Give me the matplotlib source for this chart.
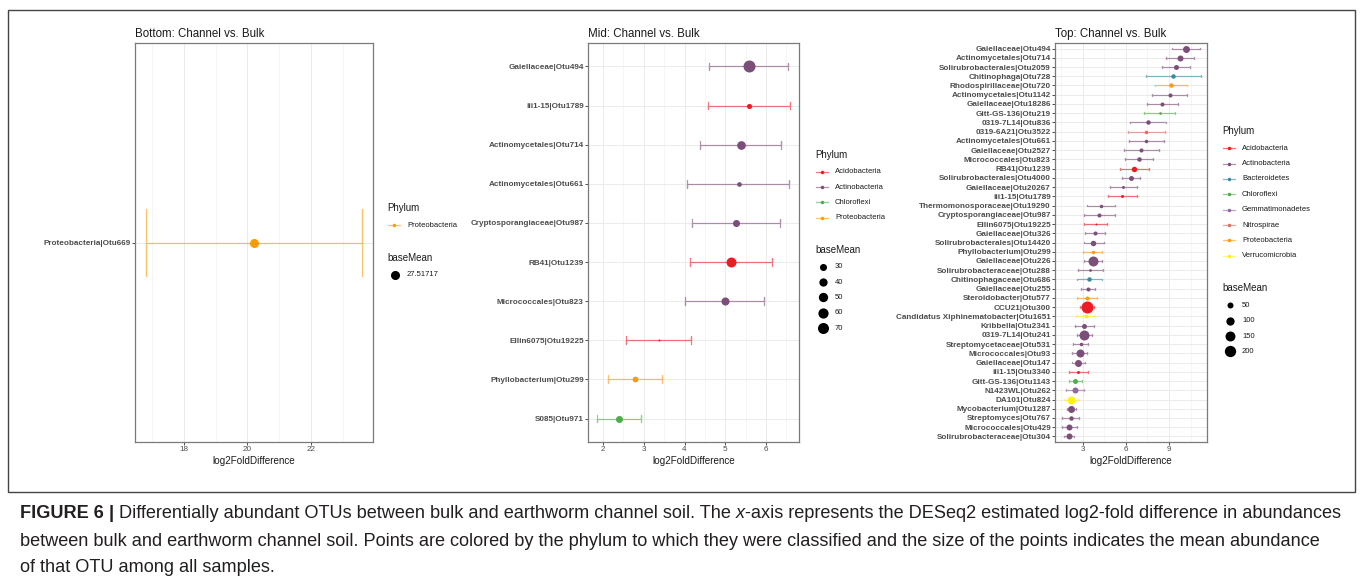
import numpy as np
import matplotlib
matplotlib.use("Agg")
import matplotlib.pyplot as plt
from matplotlib import font_manager
from matplotlib.patches import Rectangle

W, H, DPI = 1360, 579, 100

plt.rcParams['font.family'] = ['Liberation Sans', 'DejaVu Sans']

phylum_colors = {
    'Acidobacteria': '#EC1C24',
    'Actinobacteria': '#7B4F78',
    'Bacteroidetes': '#3A8C99',
    'Chloroflexi': '#4DAF4A',
    'Gemmatimonadetes': '#93679E',
    'Nitrospirae': '#D8725E',
    'Proteobacteria': '#FF9A0A',
    'Verrucomicrobia': '#FFF212',
}

# --- Bottom layer ---
bottom_otu = ['Proteobacteria|Otu669']
bottom_phylum = ['Proteobacteria']
bottom_lfc = [20.22]
bottom_lo = [16.81]
bottom_hi = [23.60]
bottom_mean = [27.51717]
bottom_breaks = [27.51717]

# --- Mid layer ---
mid_otu = ['Gaiellaceae|Otu494', 'iii1-15|Otu1789', 'Actinomycetales|Otu714',
           'Actinomycetales|Otu661', 'Cryptosporangiaceae|Otu987', 'RB41|Otu1239',
           'Micrococcales|Otu823', 'Ellin6075|Otu19225', 'Phyllobacterium|Otu299',
           'S085|Otu971']
mid_phylum = ['Actinobacteria', 'Acidobacteria', 'Actinobacteria', 'Actinobacteria',
              'Actinobacteria', 'Acidobacteria', 'Actinobacteria', 'Acidobacteria',
              'Proteobacteria', 'Chloroflexi']
mid_lfc = [5.59, 5.59, 5.38, 5.33, 5.26, 5.14, 4.99, 3.37, 2.79, 2.40]
mid_lo = [4.61, 4.58, 4.38, 4.07, 4.19, 4.13, 4.01, 2.56, 2.12, 1.85]
mid_hi = [6.54, 6.58, 6.38, 6.56, 6.34, 6.14, 5.96, 4.17, 3.44, 2.94]
mid_mean = [83, 19, 44, 17, 30, 57, 38, 12, 22, 30]
mid_breaks = [30, 40, 50, 60, 70]

# --- Top layer ---
top_otu = ['Gaiellaceae|Otu494', 'Actinomycetales|Otu714', 'Solirubrobacterales|Otu2059',
           'Chitinophaga|Otu728', 'Rhodospirillaceae|Otu720', 'Actinomycetales|Otu1142',
           'Gaiellaceae|Otu18286', 'Gitt-GS-136|Otu219', '0319-7L14|Otu836',
           '0319-6A21|Otu3522', 'Actinomycetales|Otu661', 'Gaiellaceae|Otu2527',
           'Micrococcales|Otu823', 'RB41|Otu1239', 'Solirubrobacterales|Otu4000',
           'Gaiellaceae|Otu20267', 'iii1-15|Otu1789', 'Thermomonosporaceae|Otu19290',
           'Cryptosporangiaceae|Otu987', 'Ellin6075|Otu19225', 'Gaiellaceae|Otu326',
           'Solirubrobacterales|Otu14420', 'Phyllobacterium|Otu299', 'Gaiellaceae|Otu226',
           'Solirubrobacteraceae|Otu288', 'Chitinophagaceae|Otu686', 'Gaiellaceae|Otu255',
           'Steroidobacter|Otu577', 'CCU21|Otu300', 'Candidatus Xiphinematobacter|Otu1651',
           'Kribbella|Otu2341', '0319-7L14|Otu241', 'Streptomycetaceae|Otu531',
           'Micrococcales|Otu93', 'Gaiellaceae|Otu147', 'iii1-15|Otu3340',
           'Gitt-GS-136|Otu1143', 'N1423WL|Otu262', 'DA101|Otu824',
           'Mycobacterium|Otu1287', 'Streptomyces|Otu767', 'Micrococcales|Otu429',
           'Solirubrobacteraceae|Otu304']
top_phylum = ['Actinobacteria', 'Actinobacteria', 'Actinobacteria', 'Bacteroidetes',
              'Proteobacteria', 'Actinobacteria', 'Actinobacteria', 'Chloroflexi',
              'Actinobacteria', 'Nitrospirae', 'Actinobacteria', 'Actinobacteria',
              'Actinobacteria', 'Acidobacteria', 'Actinobacteria', 'Actinobacteria',
              'Acidobacteria', 'Actinobacteria', 'Actinobacteria', 'Acidobacteria',
              'Actinobacteria', 'Actinobacteria', 'Proteobacteria', 'Actinobacteria',
              'Actinobacteria', 'Bacteroidetes', 'Actinobacteria', 'Proteobacteria',
              'Acidobacteria', 'Verrucomicrobia', 'Actinobacteria', 'Actinobacteria',
              'Actinobacteria', 'Actinobacteria', 'Actinobacteria', 'Acidobacteria',
              'Chloroflexi', 'Gemmatimonadetes', 'Verrucomicrobia', 'Actinobacteria',
              'Actinobacteria', 'Actinobacteria', 'Actinobacteria']
top_lfc = [10.19, 9.79, 9.49, 9.28, 9.14, 9.05, 8.53, 8.35, 7.53, 7.42, 7.42, 7.07,
           6.93, 6.58, 6.33, 5.81, 5.70, 4.23, 4.12, 3.88, 3.86, 3.72, 3.67, 3.67,
           3.51, 3.42, 3.35, 3.28, 3.26, 3.19, 3.09, 3.05, 2.86, 2.77, 2.67, 2.67,
           2.44, 2.42, 2.16, 2.16, 2.14, 2.05, 2.05]
top_lo = [9.23, 8.81, 8.53, 7.40, 8.02, 7.81, 7.44, 7.28, 6.30, 6.14, 6.21, 5.86,
          5.95, 5.58, 5.74, 4.88, 4.72, 3.26, 3.07, 3.09, 3.16, 3.05, 3.02, 3.07,
          2.65, 2.56, 2.86, 2.58, 2.79, 2.51, 2.42, 2.56, 2.32, 2.23, 2.23, 2.00,
          2.00, 1.81, 1.67, 1.86, 1.56, 1.56, 1.70]
top_hi = [11.16, 10.77, 10.49, 11.21, 10.23, 10.28, 9.65, 9.44, 8.79, 8.70, 8.65, 8.28,
          7.91, 7.58, 6.95, 6.79, 6.75, 5.26, 5.21, 4.67, 4.56, 4.44, 4.35, 4.30,
          4.37, 4.30, 3.86, 4.00, 3.77, 3.84, 3.79, 3.63, 3.37, 3.30, 3.14, 3.35,
          2.95, 3.09, 2.65, 2.49, 2.72, 2.56, 2.40]
top_mean = [69, 50, 35, 29, 29, 25, 25, 17, 29, 21, 21, 25, 29, 42, 35, 18, 18, 21,
            25, 16, 25, 42, 21, 152, 17, 29, 25, 25, 229, 25, 35, 152, 21, 93, 69,
            18, 35, 50, 93, 69, 29, 50, 50]
top_breaks = [50, 100, 150, 200]


def px_axes(fig, left, top, right, bottom):
    return fig.add_axes([left / W, 1 - bottom / H, (right - left) / W, (bottom - top) / H])


def dot_area(v, vmin, vmax):
    # area scaling like ggplot's scale_size: diameter 2..12 px
    f = 0.5 if vmax == vmin else (v - vmin) / (vmax - vmin)
    d = 2 + 10 * np.sqrt(max(f, 0))
    return (d * 72 / DPI) ** 2


def errbar_path(lo, hi, y, hw):
    return ([lo, lo, lo, hi, hi, hi], [y + hw, y - hw, y, y, y + hw, y - hw])


def draw_panel(ax, title, otus, phyla, lfc, lo, hi, base, xlim, major, minor):
    n = len(otus)
    ypos = np.arange(n, 0, -1)
    vmin, vmax = min(base), max(base)
    for y, p, m, l, h, b in zip(ypos, phyla, lfc, lo, hi, base):
        c = phylum_colors[p]
        xs, ys = errbar_path(l, h, y, 0.1)
        ax.plot(xs, ys, color=c, alpha=0.6, lw=0.9, zorder=2)
        ax.scatter(m, y, s=dot_area(b, vmin, vmax), color=c, linewidths=0, zorder=3)
    ax.set_xlim(xlim)
    ax.set_ylim(0.4, n + 0.6)
    ax.set_xticks(major)
    ax.set_xticklabels([str(t) for t in major])
    ax.set_xticks(minor, minor=True)
    ax.set_yticks(ypos)
    ax.set_yticklabels(otus, fontweight='bold', fontsize=5.7, color='#4d4d4d')
    ax.grid(which='major', color='#ebebeb', lw=0.7)
    ax.grid(which='minor', axis='x', color='#f1f1f1', lw=0.5)
    ax.set_axisbelow(True)
    ax.tick_params(which='minor', length=0)
    ax.tick_params(which='major', length=2, width=0.6, color='#333333',
                   labelsize=5.9, labelcolor='#4d4d4d', pad=1)
    for s in ax.spines.values():
        s.set_color('#7a7a7a')
        s.set_linewidth(0.9)
    ax.set_title(title, loc='left', fontsize=8.3, pad=4.5, color='#1a1a1a')
    ax.set_xlabel('log2FoldDifference', fontsize=7.1, labelpad=2, color='#1a1a1a')
    return vmin, vmax


def draw_legend(ov, x0, y_phy, y_first, phyla, y_size, y_size_first, breaks, vmin, vmax):
    step = 15.35
    ov.text(x0, y_phy, 'Phylum', fontsize=7, va='center', ha='left', color='#1a1a1a')
    for i, p in enumerate(phyla):
        yy = y_first + i * step
        c = phylum_colors[p]
        ov.plot([x0 + 1, x0 + 13], [yy, yy], color=c, alpha=0.6, lw=0.9)
        ov.scatter(x0 + 7, yy, s=(3.5 * 72 / DPI) ** 2, color=c, linewidths=0)
        ov.text(x0 + 20, yy, p, fontsize=5.5, va='center', ha='left', color='#1a1a1a')
    ov.text(x0, y_size, 'baseMean', fontsize=7, va='center', ha='left', color='#1a1a1a')
    for i, b in enumerate(breaks):
        yy = y_size_first + i * step
        ov.scatter(x0 + 8, yy, s=dot_area(b, vmin, vmax), color='black', linewidths=0)
        ov.text(x0 + 20, yy, str(b), fontsize=5.5, va='center', ha='left', color='#1a1a1a')


fig = plt.figure(figsize=(W / DPI, H / DPI), dpi=DPI)

ax1 = px_axes(fig, 135, 43, 373, 442)
ax2 = px_axes(fig, 588, 43, 799, 442)
ax3 = px_axes(fig, 1055, 43, 1207, 442)

r1 = draw_panel(ax1, 'Bottom: Channel vs. Bulk', bottom_otu, bottom_phylum, bottom_lfc,
                bottom_lo, bottom_hi, bottom_mean, (16.47, 23.94), [18, 20, 22], [17, 19, 21, 23])
r2 = draw_panel(ax2, 'Mid: Channel vs. Bulk', mid_otu, mid_phylum, mid_lfc,
                mid_lo, mid_hi, mid_mean, (1.63, 6.81), [2, 3, 4, 5, 6], [2.5, 3.5, 4.5, 5.5, 6.5])
r3 = draw_panel(ax3, 'Top: Channel vs. Bulk', top_otu, top_phylum, top_lfc,
                top_lo, top_hi, top_mean, (1.05, 11.65), [3, 6, 9], [1.5, 4.5, 7.5, 10.5])

# overlay in pixel coordinates for legends, frame and caption
ov = fig.add_axes([0, 0, 1, 1], zorder=5)
ov.set_xlim(0, W)
ov.set_ylim(H, 0)
ov.axis('off')

draw_legend(ov, 387, 208.3, 225.3, sorted(set(bottom_phylum)), 257.7, 275, bottom_breaks, *r1)
draw_legend(ov, 815, 155, 171.7, sorted(set(mid_phylum)), 250, 266.7, mid_breaks, *r2)
draw_legend(ov, 1222, 131, 148.3, sorted(set(top_phylum)), 288.3, 305.3, top_breaks, *r3)

ov.add_patch(Rectangle((8, 10), 1347, 482, fill=False, ec='#444444', lw=1.0))

# caption, in a narrow face when one is available
installed = {f.name for f in font_manager.fontManager.ttflist}
cap_family = ['Liberation Sans']
for name in ['Liberation Sans Narrow', 'DejaVu Sans Condensed']:
    if name in installed:
        cap_family = [name]
        break

caption = [
    [('FIGURE 6', {'fontweight': 'bold'}), (' | ', {'fontweight': 'bold'}),
     ('Differentially abundant OTUs between bulk and earthworm channel soil. The ', {}),
     ('x', {'fontstyle': 'italic'}),
     ('-axis represents the DESeq2 estimated log2-fold difference in abundances', {})],
    [('between bulk and earthworm channel soil. Points are colored by the phylum to which they '
      'were classified and the size of the points indicates the mean abundance', {})],
    [('of that OTU among all samples.', {})],
]
cap_y = [514, 541, 567]
renderer = fig.canvas.get_renderer()


def text_width(txt, size, kw):
    # width including trailing spaces: measure against a bar glyph
    t1 = ov.text(0, 0, txt + '|', fontsize=size, family=cap_family, **kw)
    t2 = ov.text(0, 0, '|', fontsize=size, family=cap_family, **kw)
    w = t1.get_window_extent(renderer).width - t2.get_window_extent(renderer).width
    t1.remove()
    t2.remove()
    return w


cap_size = 13.0
line1_w = sum(text_width(t, cap_size, kw) for t, kw in caption[0])
cap_size *= 1325 / line1_w

for y, pieces in zip(cap_y, caption):
    x = 20
    for txt, kw in pieces:
        ov.text(x, y, txt, fontsize=cap_size, family=cap_family, va='center', ha='left',
                color='#231f20', **kw)
        x += text_width(txt, cap_size, kw)

fig.savefig('out.png', dpi=DPI)
